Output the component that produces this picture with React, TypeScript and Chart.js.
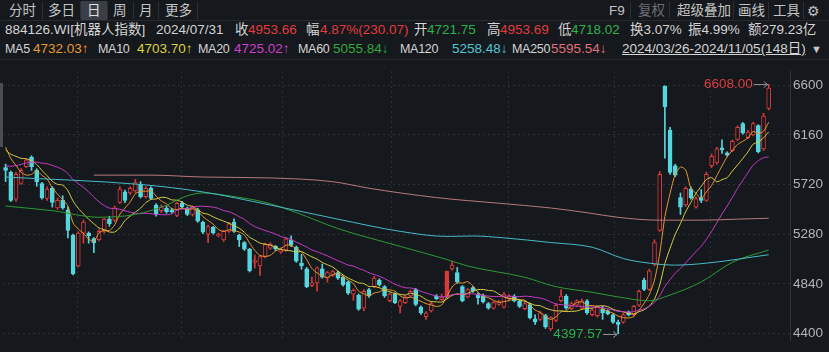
import React, { useEffect, useRef } from "react";
import { Chart, registerables } from "chart.js";
Chart.register(...registerables);

// ---- data (2024/03/26 - 2024/11/05, 148 trading days) ----
const opens = [
  5870, 5828, 5590, 5730, 5878, 5960, 5845, 5729, 5596, 5687, 5513, 5579, 5496, 5272, 4998, 5289, 5289, 5240, 5231, 5305,
  5413, 5405, 5562, 5654, 5645, 5662, 5720, 5612, 5687, 5538, 5488, 5510, 5496, 5446, 5554, 5510, 5455, 5496, 5385, 5280,
  5340, 5264, 5230, 5305, 5388, 5272, 5205, 5147, 5030, 4998, 5081, 5156, 5172, 5122, 5139, 5230, 5164, 5023, 4973, 4824,
  4849, 4973, 4890, 4915, 4940, 4899, 4857, 4749, 4740, 4625, 4790, 4815, 4874, 4815, 4690, 4749, 4640, 4674, 4732, 4790,
  4633, 4550, 4600, 4732, 4700, 4721.75, 4973, 4940, 4815, 4725, 4807, 4749, 4740, 4666, 4625, 4657, 4633, 4708, 4732, 4690,
  4620, 4657, 4530, 4525, 4558, 4440, 4517, 4690, 4732, 4620, 4650, 4625, 4690, 4566, 4558, 4616, 4600, 4566, 4500, 4500,
  4590, 4566, 4650, 4874, 4790, 5015, 5314, 6592, 6202, 5886, 5604, 5538, 5680, 5520, 5604, 5579, 5886, 5911, 6044, 6000,
  6020, 6119, 6260, 6135, 6160, 6243, 6036, 6393,
];
const highs = [
  5900, 5840, 5830, 5860, 5950, 5975, 5860, 5740, 5700, 5700, 5600, 5620, 5520, 5280, 5300, 5405, 5300, 5250, 5320, 5420,
  5438, 5530, 5700, 5670, 5700, 5765, 5745, 5700, 5700, 5550, 5540, 5530, 5510, 5565, 5570, 5520, 5530, 5510, 5395, 5360,
  5350, 5290, 5315, 5385, 5415, 5280, 5215, 5155, 5095, 5090, 5200, 5205, 5180, 5160, 5250, 5265, 5175, 5100, 4985, 4900,
  4990, 5015, 4950, 4960, 4950, 4910, 4865, 4795, 4750, 4790, 4800, 4905, 4885, 4825, 4760, 4760, 4700, 4735, 4785, 4800,
  4645, 4595, 4680, 4745, 4750, 4953.69, 5040, 4985, 4825, 4800, 4815, 4760, 4750, 4675, 4685, 4695, 4765, 4745, 4745, 4700,
  4680, 4670, 4565, 4595, 4570, 4550, 4665, 4790, 4745, 4680, 4700, 4705, 4700, 4620, 4645, 4641, 4610, 4575, 4520, 4578,
  4600, 4650, 4785, 4890, 4970, 5230, 5835, 6595, 6226, 5900, 5645, 5700, 5700, 5610, 5675, 5830, 5990, 6050, 6115, 6010,
  6115, 6240, 6270, 6200, 6270, 6250, 6350, 6608,
];
const lows = [
  5745, 5570, 5570, 5720, 5870, 5845, 5704, 5590, 5580, 5520, 5500, 5500, 5247, 4920, 4990, 5200, 5200, 5115, 5220, 5290,
  5350, 5390, 5550, 5560, 5630, 5650, 5600, 5600, 5590, 5440, 5470, 5465, 5465, 5435, 5505, 5445, 5440, 5385, 5285, 5205,
  5280, 5255, 5215, 5295, 5295, 5170, 5135, 4945, 4980, 4915, 5070, 5145, 5135, 5110, 5130, 5170, 5030, 4970, 4805, 4815,
  4775, 4890, 4855, 4905, 4880, 4820, 4745, 4695, 4605, 4600, 4720, 4805, 4820, 4720, 4680, 4665, 4583, 4665, 4725, 4645,
  4570, 4525, 4590, 4700, 4690, 4718.02, 4960, 4845, 4680, 4715, 4765, 4660, 4670, 4615, 4615, 4650, 4625, 4700, 4680, 4630,
  4610, 4530, 4480, 4515, 4445, 4425, 4505, 4680, 4615, 4610, 4640, 4615, 4570, 4555, 4545, 4525, 4565, 4490, 4397.57, 4490,
  4555, 4555, 4640, 4780, 4780, 5000, 5305, 5953, 5810, 5790, 5455, 5525, 5590, 5510, 5560, 5570, 5870, 5900, 5995, 5970,
  6010, 6110, 6165, 6125, 6150, 6000, 6020, 6380,
];
const closes = [
  5845, 5579, 5810, 5845, 5936, 5878, 5745, 5600, 5679, 5562, 5579, 5513, 5314, 4930, 5289, 5388, 5264, 5205, 5305, 5413,
  5372, 5513, 5679, 5579, 5687, 5737, 5612, 5687, 5596, 5455, 5521, 5480, 5480, 5554, 5521, 5455, 5510, 5396, 5297, 5347,
  5290, 5280, 5305, 5372, 5305, 5230, 5147, 4956, 5045, 5081, 5189, 5189, 5147, 5147, 5239, 5180, 5040, 4998, 4815, 4849,
  4981, 4899, 4940, 4948, 4890, 4832, 4757, 4782, 4616, 4774, 4732, 4890, 4832, 4732, 4749, 4674, 4690, 4724, 4774, 4657,
  4583, 4583, 4666, 4708, 4723.59, 4953.66, 5006, 4857, 4690, 4790, 4774, 4716, 4682, 4625, 4674, 4682, 4749, 4732, 4690, 4640,
  4666, 4540, 4505, 4583, 4458, 4540, 4650, 4732, 4625, 4666, 4690, 4690, 4583, 4608, 4633, 4583, 4575, 4500, 4480, 4566,
  4566, 4641, 4774, 4790, 4956, 5206, 5811, 6409, 5828, 5803, 5520, 5687, 5604, 5596, 5579, 5811, 5969, 6036, 6027, 5980,
  6102, 6226, 6176, 6185, 6260, 6010, 6326, 6575,
];
// closes of the 19 sessions before the window (feed the short moving averages)
const preCloses = [5650, 5700, 5620, 5680, 5750, 5720, 5800, 5780, 5850, 5900, 5950, 6000, 6020, 5980, 6050, 6080, 6120, 6150, 6060];

// long moving averages (session index, value)
const ma60Idx = [0, 9, 18, 25, 31, 35, 38, 43, 50, 56, 64, 76, 85, 89, 100, 106, 113, 118, 124, 128, 134, 140, 147];
const ma60Val = [5529, 5488, 5430, 5455, 5537, 5620, 5645, 5620, 5562, 5471, 5330, 5172, 5056, 4998, 4898, 4815, 4765, 4724, 4690, 4741, 4857, 5031, 5140];
const ma120Idx = [0, 26, 38, 51, 64, 76, 85, 90, 96, 105, 113, 119, 124, 129, 135, 147];
const ma120Val = [5786, 5720, 5654, 5538, 5413, 5305, 5260, 5264, 5247, 5206, 5164, 5064, 5023, 5006, 5023, 5098];
const ma250Idx = [17, 28, 38, 51, 63, 70, 83, 95, 105, 112, 118, 126, 134, 141, 147];
const ma250Val = [5803, 5803, 5786, 5778, 5745, 5687, 5604, 5554, 5512, 5470, 5429, 5404, 5404, 5413, 5421];

const selectedIndex = 85;
const monthStartIdx = [24, 44, 63, 86, 108, 127, 145];
const priceTicks = [4400, 4840, 5280, 5720, 6160, 6600];

const BG = "#15181d";
const UP = "#d83a3a";
const DOWN = "#55d6de";
const FONT = '"Liberation Sans", "Noto Sans CJK SC", sans-serif';

function movingAverage(n: number) {
  const all = [...preCloses, ...closes];
  return closes.map((_, i) => {
    const end = preCloses.length + i;
    const start = end - n + 1;
    if (start < 0) return null;
    let s = 0;
    for (let k = start; k <= end; k++) s += all[k];
    return { x: i, y: s / n };
  });
}

const extremesPlugin = {
  id: "extremes",
  afterDatasetsDraw(chart: any) {
    const { ctx } = chart;
    const xs = chart.scales.x;
    const ys = chart.scales.y;
    let hi = 0;
    let lo = 0;
    highs.forEach((v, i) => { if (v > highs[hi]) hi = i; });
    lows.forEach((v, i) => { if (v < lows[lo]) lo = i; });
    const draw = (i: number, v: number, color: string) => {
      const px = xs.getPixelForValue(i);
      const py = Math.round(ys.getPixelForValue(v)) + 0.5;
      ctx.save();
      ctx.strokeStyle = "#8a8d92";
      ctx.lineWidth = 1;
      ctx.beginPath();
      ctx.moveTo(px - 15, py);
      ctx.lineTo(px - 1, py);
      ctx.moveTo(px - 5, py - 3);
      ctx.lineTo(px - 1, py);
      ctx.lineTo(px - 5, py + 3);
      ctx.stroke();
      ctx.fillStyle = color;
      ctx.font = "13.5px " + FONT;
      ctx.textAlign = "right";
      ctx.textBaseline = "middle";
      ctx.fillText(v.toFixed(2), px - 16, py);
      ctx.restore();
    };
    draw(hi, highs[hi], "#e23c3c");
    draw(lo, lows[lo], "#2fb14a");
  },
};

const S: React.CSSProperties = { position: "absolute", whiteSpace: "nowrap", lineHeight: "20px" };

function T(props: { x: number; y: number; c?: string; children: any; style?: React.CSSProperties }) {
  return (
    <span style={{ ...S, left: props.x, top: props.y, color: props.c || "#d4d4d4", ...(props.style || {}) }}>
      {props.children}
    </span>
  );
}

const MAL: React.CSSProperties = { fontSize: 12.5, letterSpacing: -0.3 };

export default function App() {
  const ref = useRef<HTMLCanvasElement | null>(null);
  useEffect(() => {
    document.body.style.margin = "0";
    document.body.style.background = BG;
    const canvas = ref.current!;
    const isUp = (i: number) => closes[i] >= opens[i];
    const wickColors = closes.map((_, i) => (isUp(i) ? UP : DOWN));
    const bodyFill = closes.map((_, i) => (i === selectedIndex ? UP : isUp(i) ? BG : DOWN));
    const bodyBorder = closes.map((_, i) => (isUp(i) ? UP : DOWN));
    const line = (label: string, data: any[], color: string, mono: boolean) => ({
      type: "line" as const,
      label,
      data,
      borderColor: color,
      borderWidth: 1,
      pointRadius: 0,
      tension: mono ? 0 : 0.25,
      cubicInterpolationMode: mono ? ("monotone" as const) : ("default" as const),
      order: 1,
    });
    const knots = (idx: number[], val: number[]) => idx.map((x, k) => ({ x, y: val[k] }));
    const chart = new Chart(canvas, {
      data: {
        datasets: [
          {
            type: "bar",
            label: "wick",
            data: highs.map((h, i) => ({ x: i, y: [lows[i], h] })) as any,
            backgroundColor: wickColors,
            barThickness: 1,
            grouped: false,
            order: 3,
          },
          {
            type: "bar",
            label: "body",
            data: opens.map((o, i) => ({ x: i, y: [o, closes[i]] })) as any,
            backgroundColor: bodyFill,
            borderColor: bodyBorder,
            borderWidth: 1,
            borderSkipped: false,
            barThickness: 4,
            grouped: false,
            order: 2,
          },
          line("MA250", knots(ma250Idx, ma250Val), "#b97a7c", true),
          line("MA120", knots(ma120Idx, ma120Val), "#48bcc8", true),
          line("MA60", knots(ma60Idx, ma60Val), "#2f9a35", true),
          line("MA20", movingAverage(20), "#c83cc8", false),
          line("MA10", movingAverage(10), "#d8d040", false),
          line("MA5", movingAverage(5), "#e89a30", false),
        ] as any,
      },
      options: {
        animation: false,
        responsive: false,
        devicePixelRatio: 1,
        events: [],
        layout: { padding: { left: 3, top: 2, bottom: 2, right: 0 } },
        plugins: { legend: { display: false }, tooltip: { enabled: false } },
        scales: {
          x: {
            type: "linear",
            min: -0.5,
            max: 151.1,
            offset: false,
            afterBuildTicks: (s: any) => {
              s.ticks = monthStartIdx.map((v) => ({ value: v - 0.2 }));
            },
            afterFit: (s: any) => {
              s.height = 0;
            },
            ticks: { display: false },
            grid: { color: "#2c3038", drawTicks: false, tickLength: 0 },
            border: { display: false, dash: [2, 3] },
          },
          y: {
            position: "right",
            min: 4334.5,
            max: 6724.5,
            afterBuildTicks: (s: any) => {
              s.ticks = priceTicks.map((v) => ({ value: v }));
            },
            afterFit: (s: any) => {
              s.width = 39;
            },
            ticks: {
              color: "#b2b4b8",
              font: { size: 13.5, family: FONT },
              padding: 3,
              callback: (v: any) => String(v),
            },
            grid: { color: "#2c3038", drawTicks: false, tickLength: 0 },
            border: { color: "#30343b", dash: [2, 3] },
          },
        },
      },
      plugins: [extremesPlugin],
    } as any);
    return () => chart.destroy();
  }, []);

  const tabSep = [42, 80, 107, 133, 158, 197, 630, 669, 733, 768, 803];
  return (
    <div
      style={{
        position: "fixed",
        left: 0,
        top: 0,
        width: 829,
        height: 352,
        background: BG,
        overflow: "hidden",
        fontFamily: FONT,
        fontSize: 13.5,
      }}
    >
      {/* tab row */}
      <div style={{ position: "absolute", left: 81, top: 1, width: 26, height: 19, background: "#3a3e46" }} />
      {tabSep.map((x) => (
        <div key={x} style={{ position: "absolute", left: x, top: 2, width: 1, height: 17, background: "#2b2f36" }} />
      ))}
      <div style={{ position: "absolute", left: 0, top: 20, width: 829, height: 1, background: "#262a31" }} />
      <T x={9} y={1} c="#c4c4c4">分时</T>
      <T x={48} y={1} c="#c4c4c4">多日</T>
      <T x={87} y={1} c="#e0e0e0">日</T>
      <T x={113} y={1} c="#c4c4c4">周</T>
      <T x={139} y={1} c="#c4c4c4">月</T>
      <T x={165} y={1} c="#c4c4c4">更多</T>
      <T x={609} y={1} c="#c4c4c4">F9</T>
      <T x={638} y={1} c="#6c6f74">复权</T>
      <T x={677} y={1} c="#c4c4c4">超级叠加</T>
      <T x={738} y={1} c="#c4c4c4">画线</T>
      <T x={773} y={1} c="#c4c4c4">工具</T>
      <T x={807} y={1} c="#c4c4c4" style={{ fontFamily: '"DejaVu Sans"', fontSize: 14 }}>⚙</T>

      {/* quote row */}
      <T x={5} y={20}>884126.WI[机器人指数]</T>
      <T x={156} y={20}>2024/07/31</T>
      <T x={235} y={20}>收</T>
      <T x={248} y={20} c="#e23c3c">4953.66</T>
      <T x={306} y={20}>幅</T>
      <T x={320} y={20} c="#e23c3c">4.87%(230.07)</T>
      <T x={414} y={20}>开</T>
      <T x={427} y={20} c="#2fb14a">4721.75</T>
      <T x={487} y={20}>高</T>
      <T x={500} y={20} c="#e23c3c">4953.69</T>
      <T x={558} y={20}>低</T>
      <T x={571} y={20} c="#2fb14a">4718.02</T>
      <T x={630} y={20}>换3.07%</T>
      <T x={688} y={20}>振4.99%</T>
      <T x={748} y={20}>额279.23亿</T>

      {/* moving average row */}
      <T x={5} y={39} style={MAL}>MA5</T>
      <T x={33} y={39} c="#e89a30">4732.03↑</T>
      <T x={98} y={39} style={MAL}>MA10</T>
      <T x={137} y={39} c="#dcd43c">4703.70↑</T>
      <T x={198} y={39} style={MAL}>MA20</T>
      <T x={234} y={39} c="#cf3fd0">4725.02↑</T>
      <T x={298} y={39} style={MAL}>MA60</T>
      <T x={333} y={39} c="#32a83a">5055.84↓</T>
      <T x={400} y={39} style={MAL}>MA120</T>
      <T x={452} y={39} c="#4fc6d2">5258.48↓</T>
      <T x={512} y={39} style={MAL}>MA250</T>
      <T x={551} y={39} c="#e0707a">5595.54↓</T>
      <T x={622} y={39} style={{ textDecoration: "underline" }}>2024/03/26-2024/11/05(148日)</T>
      <T x={811} y={39} c="#c8c8c8" style={{ fontSize: 11 }}>▼</T>
      <div style={{ position: "absolute", left: 0, top: 59, width: 829, height: 1, background: "#262a31" }} />

      {/* left scroll marker */}
      <div style={{ position: "absolute", left: 0, top: 83, width: 3, height: 64, background: "#4a4d52" }} />

      <canvas
        ref={ref}
        width={829}
        height={292}
        style={{ position: "absolute", left: 0, top: 60, width: 829, height: 292 }}
      />
    </div>
  );
}
